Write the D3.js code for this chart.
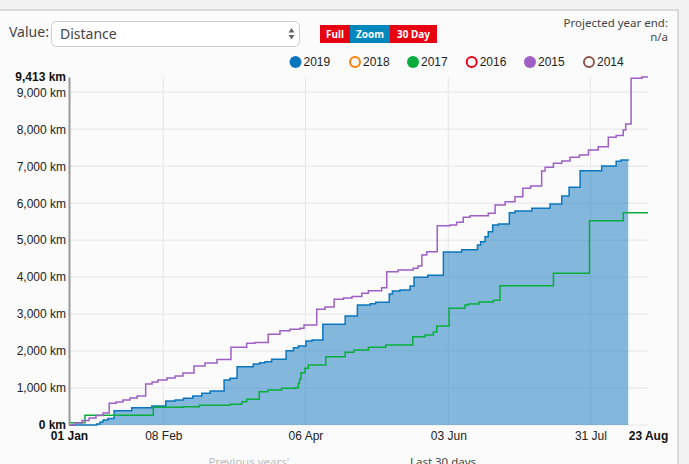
<!DOCTYPE html>
<html>
<head>
<meta charset="utf-8">
<script src="https://d3js.org/d3.v7.min.js"></script>
<style>
  html, body { margin: 0; padding: 0; background: #f2f2f2; overflow: hidden; }
  svg { display: block; }
  .ui { font-family: "Noto Sans", sans-serif; fill: #444; }
  .axis text, .legend text { font-family: "Liberation Sans", Arial, sans-serif; font-size: 12px; fill: #222; }
  .axis .bold text { font-weight: bold; fill: #111; }
</style>
</head>
<body>
<svg></svg>
<script>
let width = 689, height = 464;

// values: days since 01 Jan, cumulative km
let days2015 = [0, 2.4, 5.3, 8.2, 11, 13.9, 16.4, 19.2, 22, 24.9, 27.8, 31.3, 33.9, 36.3, 40, 43.3, 46.5, 51, 55.5, 60.4, 66.1, 72.5, 75.9, 81.3, 86.1, 90.2, 94.3, 95.9, 101.1, 104.5, 108.2, 112, 115.5, 119.5, 122.2, 127.6, 129.7, 134.3, 140.5, 142.4, 144, 146, 150.3, 155.5, 158.2, 160.9, 163.7, 171.1, 173.9, 178, 182, 185.2, 188.4, 192.9, 194.3, 197.7, 201.1, 204.5, 208.3, 212, 216, 220.1, 223.3, 226.2, 227.2, 229.4, 233.8, 236.3];
let km2015 = [0, 54, 122, 189, 257, 325, 587, 622, 676, 730, 784, 1109, 1163, 1217, 1271, 1325, 1407, 1596, 1677, 1772, 2102, 2210, 2232, 2453, 2551, 2589, 2616, 2705, 3130, 3192, 3400, 3435, 3476, 3562, 3633, 3714, 4147, 4193, 4239, 4301, 4599, 4688, 5391, 5410, 5483, 5618, 5661, 5726, 5951, 6040, 6175, 6403, 6465, 6871, 6971, 7079, 7141, 7241, 7304, 7439, 7528, 7782, 7831, 7980, 8142, 9378, 9413, 9413];

let days2019 = [0, 11.3, 12.7, 13.9, 15.9, 18.4, 25.6, 33.8, 39.5, 43.3, 46.7, 50.5, 54.2, 57.6, 63.3, 65.7, 68.6, 75.2, 77.8, 80, 82.7, 88.6, 91.6, 93.6, 96.7, 99.2, 103.6, 112.7, 117.7, 122.9, 125.2, 130.7, 132, 135.1, 139.2, 140.8, 146.4, 152.8, 160.3, 166.7, 168, 169.8, 171.1, 172.9, 175.2, 179.7, 182, 188.9, 196.3, 201.1, 204.1, 208.6, 217.4, 223.3, 225.3, 228.2];
let km2019 = [0, 27, 81, 135, 176, 387, 468, 514, 649, 676, 722, 784, 857, 920, 1217, 1263, 1577, 1650, 1685, 1712, 1777, 2010, 2091, 2137, 2272, 2299, 2724, 2948, 3246, 3281, 3319, 3544, 3625, 3652, 3760, 3995, 4049, 4680, 4742, 4869, 4958, 5094, 5229, 5410, 5437, 5743, 5789, 5862, 5978, 6194, 6430, 6879, 7006, 7133, 7168, 7187];

let days2017 = [0, 6.5, 34.4, 46.7, 53.1, 65.7, 70.5, 72.5, 77.6, 81.1, 86.8, 92.5, 93.6, 94.1, 94.7, 96.3, 97.7, 104.8, 112.7, 116.3, 122.2, 129.3, 140.3, 145.3, 148.7, 150.1, 155.1, 161.6, 163, 167.3, 173.2, 175.9, 197.7, 212.4, 226.2, 236.3];
let km2017 = [60, 262, 479, 495, 533, 560, 630, 695, 901, 947, 993, 1009, 1128, 1244, 1415, 1534, 1623, 1848, 1967, 2029, 2102, 2164, 2389, 2435, 2516, 2678, 3157, 3246, 3273, 3327, 3373, 3768, 4104, 5526, 5743, 5743];

let yTicks = [0, 1000, 2000, 3000, 4000, 5000, 6000, 7000, 8000, 9000, 9413];
let xTicks = [0, 38.5, 96.5, 154.8, 212.8, 236.3];
let xLabels = ["01 Jan", "08 Feb", "06 Apr", "03 Jun", "31 Jul", "23 Aug"];

let legendYears = ["2019", "2018", "2017", "2016", "2015", "2014"];
let legendColors = ["#0b76bd", "#ff7f0e", "#0aad3c", "#e8001c", "#a05fc5", "#8c564b"];
let legendFilled = [true, false, true, false, true, false];
let legendX = [295.5, 355, 413, 471.7, 530, 589];

let buttonLabels = ["Full", "Zoom", "30 Day"];
let buttonX = [320, 350, 390];
let buttonW = [30, 40, 47];
let buttonColors = ["#e60012", "#0088bd", "#e60012"];

let svg = d3.select("svg")
    .attr("width", width)
    .attr("height", height);

// page card
svg.append("rect").attr("x", -2).attr("y", 10).attr("width", 680).attr("height", 470)
    .attr("fill", "#fbfbfb").attr("stroke", "#bdbdbd").attr("stroke-width", 1);

// controls
svg.append("text").attr("class", "ui").attr("x", 9).attr("y", 37).attr("font-size", 14).text("Value:");
svg.append("rect").attr("x", 51.5).attr("y", 21.5).attr("width", 248).attr("height", 25).attr("rx", 5)
    .attr("fill", "#fff").attr("stroke", "#ccc");
svg.append("text").attr("class", "ui").attr("x", 60).attr("y", 39).attr("font-size", 14).attr("fill", "#555").text("Distance");
svg.append("path").attr("d", "M288.5 32.5 L291.5 28 L294.5 32.5 Z M288.5 35 L291.5 39.5 L294.5 35 Z").attr("fill", "#666");

let buttons = svg.append("g");
buttonLabels.forEach((d, i) => {
    buttons.append("rect").attr("x", buttonX[i]).attr("y", 25).attr("width", buttonW[i]).attr("height", 18)
        .attr("fill", buttonColors[i]);
    buttons.append("text").attr("class", "ui")
        .attr("x", buttonX[i] + buttonW[i] / 2).attr("y", 38)
        .attr("text-anchor", "middle").attr("font-size", 10).attr("font-weight", "bold")
        .style("fill", "#fff").text(d);
});

svg.append("text").attr("class", "ui").attr("x", 668).attr("y", 27).attr("text-anchor", "end").attr("font-size", 11.5).text("Projected year end:");
svg.append("text").attr("class", "ui").attr("x", 668).attr("y", 41).attr("text-anchor", "end").attr("font-size", 11.5).text("n/a");

// legend
let legend = svg.append("g").attr("class", "legend");
legendYears.forEach((d, i) => {
    legend.append("circle").attr("cx", legendX[i]).attr("cy", 62)
        .attr("r", legendFilled[i] ? 6 : 5)
        .attr("fill", legendFilled[i] ? legendColors[i] : "none")
        .attr("stroke", legendFilled[i] ? "none" : legendColors[i])
        .attr("stroke-width", 2);
    legend.append("text").attr("x", legendX[i] + 8).attr("y", 66).text(d);
});

// scales
let x = d3.scaleLinear().domain([0, 236.3]).range([69, 648]);
let y = d3.scaleLinear().domain([0, 9413]).range([425, 77]);

// grid
let grid = svg.append("g");
grid.selectAll("line.h")
    .data(yTicks.slice(0, -1))
    .enter()
    .append("line")
    .attr("x1", 69).attr("x2", 648)
    .attr("y1", d => y(d)).attr("y2", d => y(d))
    .attr("stroke", "#ececec").attr("stroke-width", 1.5);
grid.selectAll("line.v")
    .data(xTicks.slice(1, -1))
    .enter()
    .append("line")
    .attr("x1", d => x(d)).attr("x2", d => x(d))
    .attr("y1", 77).attr("y2", 425)
    .attr("stroke", "#e6e6e6").attr("stroke-width", 1);

// series
let points = (days, km) => days.map((d, i) => [d, km[i]]);
let line = d3.line().x(d => x(d[0])).y(d => y(d[1])).curve(d3.curveStepAfter);
let area = d3.area().x(d => x(d[0])).y0(y(0)).y1(d => y(d[1])).curve(d3.curveStepAfter);

svg.append("path")
    .datum(points(days2019, km2019))
    .attr("d", area)
    .attr("fill", "#0b76bd").attr("fill-opacity", 0.5);

[[days2019, km2019, legendColors[0]], [days2017, km2017, legendColors[2]], [days2015, km2015, legendColors[4]]]
    .forEach(s => {
        svg.append("path")
            .datum(points(s[0], s[1]))
            .attr("d", line)
            .attr("fill", "none")
            .attr("stroke", s[2])
            .attr("stroke-width", 1.5);
    });

// axes
let yAxis = svg.append("g").attr("class", "axis")
    .attr("transform", "translate(69,0)")
    .call(d3.axisLeft(y).tickValues(yTicks).tickSize(0).tickPadding(3)
        .tickFormat(d => d3.format(",")(d) + " km"));
yAxis.select(".domain").attr("stroke", "#999").attr("stroke-width", 2);
yAxis.selectAll(".tick").classed("bold", d => d == 0 || d == 9413);

let xAxis = svg.append("g").attr("class", "axis")
    .attr("transform", "translate(0,425)")
    .call(d3.axisBottom(x).tickValues(xTicks).tickSize(0).tickPadding(6)
        .tickFormat((d, i) => xLabels[i]));
xAxis.select(".domain").remove();
xAxis.selectAll(".tick").classed("bold", d => d == 0 || d == 236.3);

// cut off tabs under the chart
svg.append("text").attr("class", "ui").attr("x", 249).attr("y", 466).attr("text-anchor", "middle")
    .attr("font-size", 11.5).style("fill", "#bbb").text("Previous years'");
svg.append("text").attr("class", "ui").attr("x", 443).attr("y", 466).attr("text-anchor", "middle")
    .attr("font-size", 11.5).text("Last 30 days");
</script>
</body>
</html>
